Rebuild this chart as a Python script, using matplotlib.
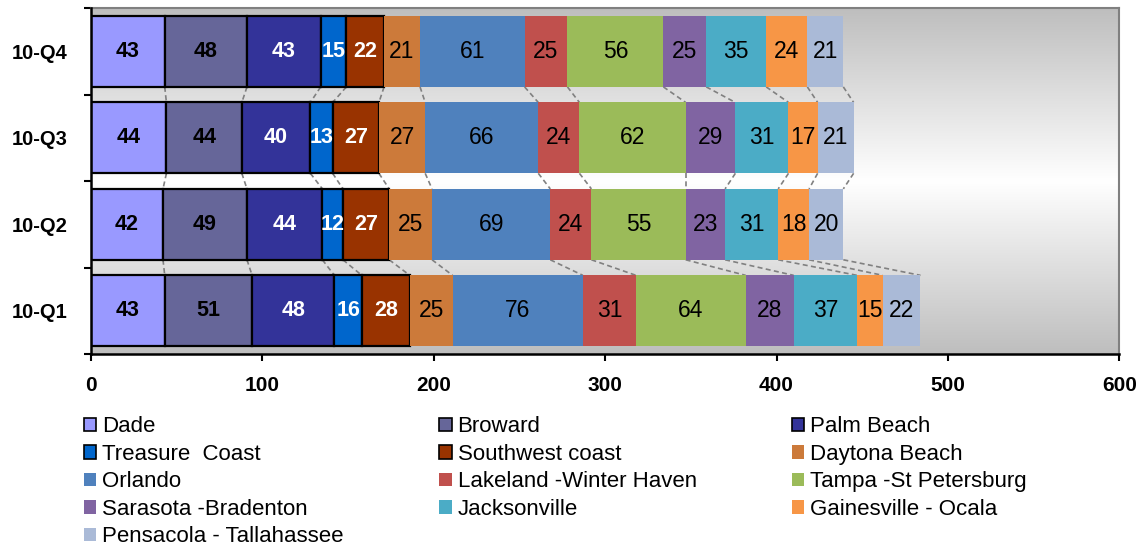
import numpy as np
import matplotlib
matplotlib.use("Agg")
import matplotlib.pyplot as plt
from matplotlib.colors import LinearSegmentedColormap
from matplotlib.patches import Patch

plt.rcParams['font.family'] = ['Liberation Sans', 'DejaVu Sans']

# Quarterly counts per region (stacked left to right)
quarters = ["10-Q1", "10-Q2", "10-Q3", "10-Q4"]
regions = ["Dade", "Broward", "Palm Beach", "Treasure  Coast", "Southwest coast",
           "Daytona Beach", "Orlando", "Lakeland -Winter Haven", "Tampa -St Petersburg",
           "Sarasota -Bradenton", "Jacksonville", "Gainesville - Ocala",
           "Pensacola - Tallahassee"]
q1 = [43, 51, 48, 16, 28, 25, 76, 31, 64, 28, 37, 15, 22]
q2 = [42, 49, 44, 12, 27, 25, 69, 24, 55, 23, 31, 18, 20]
q3 = [44, 44, 40, 13, 27, 27, 66, 24, 62, 29, 31, 17, 21]
q4 = [43, 48, 43, 15, 22, 21, 61, 25, 56, 25, 35, 24, 21]
x_ticks = [0, 100, 200, 300, 400, 500, 600]

colors = ["#9999FF", "#666699", "#333399", "#0066CC", "#993300",
          "#CC7A3A", "#4F81BD", "#C0504D", "#9BBB59",
          "#8064A2", "#4BACC6", "#F79646", "#AABAD7"]
outlined = 5  # first regions drawn with a black frame and bold labels
label_colors = ["black", "black", "white", "white", "white"] + ["black"] * 8

data = np.array([q1, q2, q3, q4])
cum = np.cumsum(data, axis=1)
starts = cum - data

fig = plt.figure(figsize=(11.45, 5.48), dpi=100)
ax = fig.add_axes([0.0795, 0.354, 0.898, 0.631])

# Vertical grey-white-grey backdrop
cmap = LinearSegmentedColormap.from_list("bg", ["#BEBEBE", "#FFFFFF", "#BEBEBE"])
grad = np.linspace(0, 1, 256).reshape(-1, 1)
ax.imshow(grad, extent=[0, 600, -0.5, 3.5], aspect="auto", cmap=cmap,
          zorder=0, origin="upper")

h = 0.82
ypos = np.arange(len(quarters))
handles = []
for s, name in enumerate(regions):
    if s < outlined:
        ec, lw = "black", 1.6
    else:
        ec, lw = "none", 0
    cont = ax.barh(ypos, data[:, s], left=starts[:, s], height=h,
                   color=colors[s], edgecolor=ec, linewidth=lw, zorder=3)
    if s < outlined:
        ax.bar_label(cont, labels=[str(v) for v in data[:, s]], label_type="center",
                     fontsize=15.5, fontweight="bold", color=label_colors[s], zorder=5)
    else:
        ax.bar_label(cont, labels=[str(v) for v in data[:, s]], label_type="center",
                     fontsize=16.5, color=label_colors[s], zorder=5)
    handles.append(Patch(facecolor=colors[s], edgecolor="black" if s < outlined else "none",
                         linewidth=1.2 if s < outlined else 0, label=name))

# Series lines joining segment ends of neighbouring quarters
for i in range(len(quarters) - 1):
    for s in range(len(regions)):
        ax.plot([cum[i + 1, s], cum[i, s]], [i + 1 - h / 2, i + h / 2],
                color="#808080", lw=1.2, ls=(0, (3, 2)), zorder=2)

ax.set_xlim(0, 600)
ax.set_ylim(-0.5, 3.5)
ax.set_xticks(x_ticks)
ax.set_xticklabels([str(t) for t in x_ticks], fontsize=15, fontweight="bold")
ax.set_yticks(ypos)
ax.set_yticklabels(quarters, fontsize=14.5, fontweight="bold")
ax.tick_params(axis="y", length=0, pad=17)
ax.set_yticks(np.arange(-0.5, 4.0, 1.0), minor=True)
ax.tick_params(axis="y", which="minor", length=5, width=1.5, direction="out")
ax.tick_params(axis="x", length=5, width=1.5, direction="out", pad=11)

for side in ("left", "bottom"):
    ax.spines[side].set_color("black")
    ax.spines[side].set_linewidth(1.8)
    ax.spines[side].set_zorder(6)
for side in ("top", "right"):
    ax.spines[side].set_color("#808080")
    ax.spines[side].set_linewidth(1.5)

# Legend filled row by row in three columns
order = [0, 3, 6, 9, 12, 1, 4, 7, 10, 2, 5, 8, 11]
leg = fig.legend([handles[k] for k in order], [regions[k] for k in order],
                 ncol=3, loc="upper left", bbox_to_anchor=(0.0734, 0.240),
                 frameon=False, fontsize=16, handlelength=0.55, handleheight=0.55,
                 handletextpad=0.27, columnspacing=4.3, labelspacing=0.29,
                 borderaxespad=0, borderpad=0)

fig.savefig("out.png", dpi=100)
